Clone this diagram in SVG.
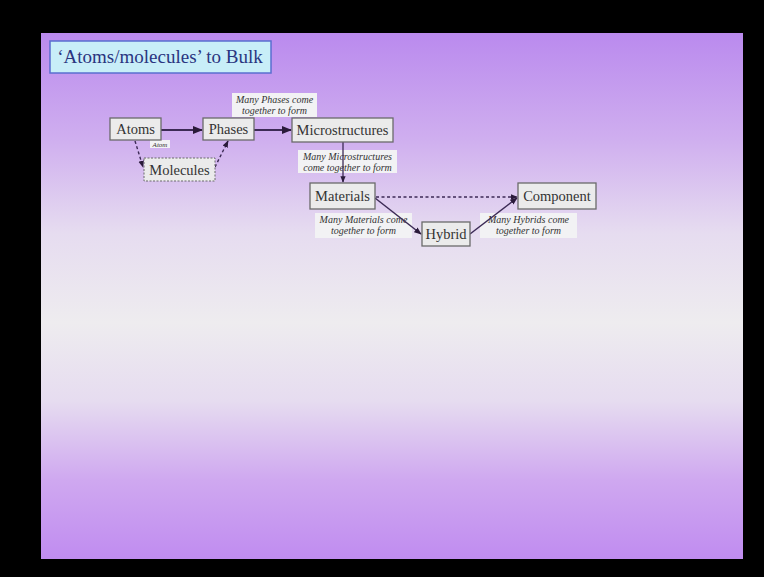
<svg xmlns="http://www.w3.org/2000/svg" width="764" height="577" viewBox="0 0 764 577">
<defs>
<linearGradient id="bg" x1="0" y1="0" x2="0" y2="1">
<stop offset="0" stop-color="#ba8aee"/>
<stop offset="0.2" stop-color="#cfaeef"/>
<stop offset="0.38" stop-color="#e6dcf0"/>
<stop offset="0.55" stop-color="#eeecef"/>
<stop offset="0.7" stop-color="#e6dcf0"/>
<stop offset="0.85" stop-color="#cfa8f0"/>
<stop offset="1" stop-color="#c08cf0"/>
</linearGradient>
<marker id="ah" viewBox="0 0 10 10" refX="9" refY="5" markerWidth="5" markerHeight="5" orient="auto">
<path d="M0,1 L10,5 L0,9 z" fill="#2a1a3a"/>
</marker>
<style>
.node rect{fill:#ebebeb;stroke:#6a6a6a;stroke-width:1.3}
.node text{font-family:"Liberation Serif",serif;font-size:14.5px;fill:#333;text-anchor:middle}
.lbl rect{fill:#f2f2f4;stroke:none}
.lbl text{font-family:"Liberation Serif",serif;font-style:italic;font-size:10px;fill:#333;text-anchor:middle}
.solid{stroke:#3c2a55;stroke-width:2;fill:none;marker-end:url(#ah)}
.dash{stroke:#3c2a55;stroke-width:1.4;stroke-dasharray:3,2.5;fill:none;marker-end:url(#ah)}
</style>
</defs>
<rect x="0" y="0" width="764" height="577" fill="#000"/>
<rect x="41" y="33" width="702" height="526" fill="url(#bg)"/>
<g id="title">
<rect x="50" y="41" width="221" height="32" fill="#c8eef8" stroke="#5a6ed0" stroke-width="1.5"/>
<text x="160" y="63" font-family="Liberation Serif, serif" font-size="19" fill="#2a3580" text-anchor="middle">‘Atoms/molecules’ to Bulk</text>
</g>
<g id="labels">
<g class="lbl" id="lbl-phases"><rect x="232" y="93" width="85" height="24"/><text x="274.5" y="103">Many Phases come</text><text x="274.5" y="114">together to form</text></g>
<g class="lbl" id="lbl-micro"><rect x="298" y="150" width="99" height="23"/><text x="347.5" y="160">Many Microstructures</text><text x="347.5" y="171">come together to form</text></g>
<g class="lbl" id="lbl-mat"><rect x="315" y="213" width="97" height="25"/><text x="363.5" y="223">Many Materials come</text><text x="363.5" y="234">together to form</text></g>
<g class="lbl" id="lbl-hyb"><rect x="480" y="213" width="97" height="25"/><text x="528.5" y="223">Many Hybrids come</text><text x="528.5" y="234">together to form</text></g>
<g class="lbl" id="lbl-atom"><rect x="150" y="140" width="20" height="8" fill="#e0d4f0"/><text x="160" y="147" style="font-size:7px">Atom</text></g>
</g>
<g id="connectors">
<line class="solid" x1="161" y1="130" x2="202" y2="130"/>
<line class="solid" x1="254" y1="130" x2="291" y2="130"/>
<line class="solid" x1="343" y1="142" x2="343" y2="182" style="stroke-width:1.3"/>
<line class="dash" x1="135" y1="141" x2="143" y2="167"/>
<line class="dash" x1="215" y1="167" x2="228" y2="141"/>
<line class="dash" x1="376" y1="197" x2="517" y2="197"/>
<line class="solid" x1="375" y1="198" x2="421" y2="234" style="stroke-width:1.5"/>
<line class="solid" x1="470" y1="234" x2="517" y2="198" style="stroke-width:1.5"/>
</g>
<g class="node" id="atoms"><rect x="110" y="118" width="51" height="22"/><text x="135.5" y="134">Atoms</text></g>
<g class="node" id="phases"><rect x="203" y="118" width="51" height="22"/><text x="228.5" y="134">Phases</text></g>
<g class="node" id="microstructures"><rect x="292" y="118" width="101" height="24"/><text x="342.5" y="135">Microstructures</text></g>
<g class="node" id="molecules"><rect x="144" y="158" width="71" height="23" style="stroke-dasharray:2,1.5;stroke-width:1"/><text x="179.5" y="175">Molecules</text></g>
<g class="node" id="materials"><rect x="310" y="183" width="65" height="26"/><text x="342.5" y="201">Materials</text></g>
<g class="node" id="component"><rect x="518" y="183" width="78" height="26"/><text x="557" y="201">Component</text></g>
<g class="node" id="hybrid"><rect x="422" y="222" width="48" height="24"/><text x="446" y="239">Hybrid</text></g>
</svg>
